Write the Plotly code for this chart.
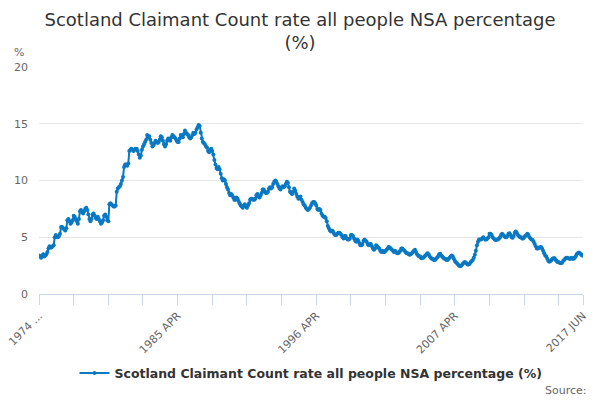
import plotly.graph_objects as go

# monthly values, one row per year (1974 starts in APR, 2017 ends in JUN)
rate_1974 = [3.4, 3.3, 3.2, 3.4, 3.5, 3.3, 3.4, 3.5, 3.7]
rate_1975_1984 = [
    [4.0, 4.2, 4.1, 4.1, 4.2, 4.3, 5.0, 5.2, 5.0, 5.0, 5.1, 5.3],
    [5.9, 5.9, 5.8, 5.7, 5.6, 5.8, 6.5, 6.6, 6.4, 6.2, 6.3, 6.5],
    [6.9, 6.8, 6.6, 6.4, 6.2, 6.6, 7.3, 7.4, 7.2, 7.1, 7.3, 7.5],
    [7.6, 7.4, 7.0, 6.6, 6.4, 6.6, 7.0, 7.1, 6.9, 6.7, 6.6, 6.8],
    [6.6, 6.4, 6.2, 6.3, 6.5, 6.9, 7.0, 6.8, 6.5, 6.4, 7.9, 8.0],
    [7.9, 7.8, 7.7, 7.7, 7.8, 9.0, 9.3, 9.4, 9.5, 9.7, 10.0, 10.3],
    [11.2, 11.4, 11.4, 11.3, 11.5, 12.6, 12.7, 12.8, 12.7, 12.6, 12.7, 12.8],
    [12.8, 12.6, 12.3, 12.0, 12.2, 12.7, 13.0, 13.2, 13.4, 13.6, 14.0, 13.8],
    [13.9, 13.6, 13.3, 13.0, 13.1, 13.3, 13.5, 13.4, 13.3, 13.4, 13.6, 13.9],
    [13.8, 13.5, 13.2, 13.0, 13.2, 13.5, 13.7, 13.6, 13.5, 13.8, 14.0, 13.9],
]
rate_1985_1994 = [
    [13.8, 13.7, 13.5, 13.4, 13.4, 13.7, 14.0, 13.9, 13.8, 14.1, 14.4, 14.2],
    [14.1, 14.0, 13.8, 13.7, 13.8, 14.0, 14.2, 14.1, 14.2, 14.5, 14.7, 14.9],
    [14.8, 14.2, 13.7, 13.4, 13.3, 13.2, 13.0, 12.9, 12.6, 12.5, 12.7, 12.8],
    [12.6, 12.3, 11.8, 11.4, 11.1, 11.0, 11.2, 11.0, 10.6, 10.2, 10.0, 10.1],
    [10.0, 9.7, 9.4, 9.2, 8.9, 8.7, 8.8, 8.7, 8.5, 8.3, 8.3, 8.5],
    [8.4, 8.2, 8.0, 7.8, 7.7, 7.6, 7.8, 7.9, 7.7, 7.6, 7.8, 8.0],
    [8.3, 8.4, 8.4, 8.3, 8.3, 8.4, 8.7, 8.8, 8.6, 8.5, 8.7, 8.9],
    [9.2, 9.2, 9.0, 8.9, 8.9, 9.0, 9.3, 9.4, 9.3, 9.4, 9.7, 9.9],
    [10.0, 9.9, 9.7, 9.5, 9.3, 9.2, 9.4, 9.5, 9.4, 9.5, 9.7, 9.9],
    [9.8, 9.4, 9.0, 8.9, 8.8, 9.0, 9.3, 9.1, 8.8, 8.6, 8.4, 8.5],
]
rate_1995_2004 = [
    [8.6, 8.3, 8.1, 7.9, 7.8, 7.6, 7.5, 7.4, 7.5, 7.6, 7.8, 8.0],
    [8.1, 8.1, 8.0, 7.8, 7.5, 7.4, 7.5, 7.4, 7.1, 6.9, 6.8, 6.8],
    [6.7, 6.4, 6.0, 5.8, 5.6, 5.5, 5.6, 5.5, 5.3, 5.2, 5.2, 5.3],
    [5.4, 5.4, 5.3, 5.2, 5.0, 4.9, 5.1, 5.1, 4.9, 4.8, 4.8, 4.9],
    [5.2, 5.2, 5.1, 4.9, 4.7, 4.6, 4.8, 4.7, 4.5, 4.3, 4.3, 4.4],
    [4.7, 4.8, 4.7, 4.6, 4.4, 4.3, 4.4, 4.4, 4.2, 4.0, 3.9, 4.0],
    [4.3, 4.2, 4.1, 4.0, 3.8, 3.7, 3.8, 3.7, 3.7, 3.8, 3.9, 4.0],
    [4.15, 4.1, 4.0, 3.9, 3.8, 3.7, 3.8, 3.7, 3.6, 3.6, 3.7, 3.8],
    [4.0, 4.0, 3.9, 3.8, 3.7, 3.6, 3.6, 3.5, 3.45, 3.5, 3.6, 3.7],
    [3.8, 3.9, 3.7, 3.5, 3.4, 3.3, 3.3, 3.15, 3.2, 3.2, 3.3, 3.4],
]
rate_2005_2016 = [
    [3.5, 3.6, 3.5, 3.3, 3.2, 3.1, 3.1, 3.0, 3.0, 3.1, 3.2, 3.3],
    [3.5, 3.55, 3.4, 3.3, 3.2, 3.1, 3.1, 3.0, 3.0, 3.1, 3.2, 3.3],
    [3.4, 3.3, 3.1, 2.9, 2.8, 2.7, 2.6, 2.5, 2.45, 2.5, 2.6, 2.7],
    [2.8, 2.8, 2.7, 2.6, 2.6, 2.65, 2.8, 2.9, 3.0, 3.2, 3.45, 3.8],
    [4.3, 4.6, 4.8, 4.8, 4.8, 4.9, 5.0, 4.9, 4.8, 4.8, 4.9, 5.0],
    [5.3, 5.3, 5.2, 5.0, 4.9, 4.8, 4.75, 4.8, 4.8, 4.9, 5.0, 5.2],
    [5.3, 5.2, 5.1, 5.0, 5.0, 5.1, 5.3, 5.35, 5.2, 5.0, 4.95, 5.1],
    [5.4, 5.5, 5.4, 5.2, 5.1, 5.0, 5.0, 4.9, 4.9, 5.0, 5.1, 5.2],
    [5.3, 5.2, 5.0, 4.9, 4.8, 4.75, 4.6, 4.4, 4.2, 4.0, 4.0, 4.1],
    [4.1, 4.15, 4.0, 3.8, 3.6, 3.4, 3.3, 3.1, 2.9, 2.85, 2.9, 3.0],
    [3.1, 3.15, 3.15, 3.0, 2.9, 2.8, 2.8, 2.75, 2.7, 2.75, 2.9, 3.0],
    [3.1, 3.2, 3.2, 3.15, 3.1, 3.1, 3.2, 3.1, 3.1, 3.2, 3.3, 3.5],
]
rate_2017 = [3.6, 3.65, 3.6, 3.5, 3.4, 3.45]

month_names = ["JAN", "FEB", "MAR", "APR", "MAY", "JUN",
               "JUL", "AUG", "SEP", "OCT", "NOV", "DEC"]

values = list(rate_1974)
for block in (rate_1975_1984, rate_1985_1994, rate_1995_2004, rate_2005_2016):
    for row in block:
        values += row
values += rate_2017

# category labels, 1974 APR .. 2017 JUN
periods = [f"1974 {m}" for m in month_names[3:]]
for yr in range(1975, 2017):
    periods += [f"{yr} {m}" for m in month_names]
periods += [f"2017 {m}" for m in month_names[:6]]

# ticks every 33 months, labels on every 4th tick plus the last month
tick_idx = list(range(0, len(periods), 33)) + [len(periods) - 1]
tick_text = []
for k in tick_idx:
    if k == 0:
        tick_text.append("1974 ...")
    elif k % 132 == 0 or k == len(periods) - 1:
        tick_text.append(periods[k])
    else:
        tick_text.append("")

blue = "#0a78c2"
grey = "#666666"

fig = go.Figure()
fig.add_trace(go.Scatter(
    x=periods, y=values,
    mode="lines+markers",
    line=dict(color=blue, width=2),
    marker=dict(color=blue, size=4),
    name="Scotland Claimant Count rate all people NSA percentage (%)",
))

fig.update_layout(
    width=600, height=400,
    margin=dict(l=39, r=17, t=67, b=106, autoexpand=False),
    paper_bgcolor="white", plot_bgcolor="white",
    font=dict(family="DejaVu Sans", color=grey, size=11),
    title=dict(
        text="Scotland Claimant Count rate all people NSA percentage<br>(%)",
        x=0.5, xanchor="center", xref="container",
        y=0.935, yanchor="middle", yref="container",
        font=dict(size=18, color="#333333"),
    ),
    showlegend=True,
    legend=dict(
        orientation="h", x=0.5, xanchor="center", y=-0.35, yanchor="middle",
        font=dict(size=12.5, color="#333333", weight="bold"),
        itemwidth=30,
    ),
    annotations=[
        dict(text="%", xref="paper", yref="paper", x=-0.05, y=1.066,
             xanchor="left", yanchor="middle", showarrow=False,
             font=dict(size=11, color=grey)),
        dict(text="Source:", xref="paper", yref="paper", x=1.011, y=-0.425,
             xanchor="right", yanchor="middle", showarrow=False,
             font=dict(size=11, color=grey)),
    ],
)

fig.update_xaxes(
    type="category", range=[0, len(periods) - 1], automargin=False,
    tickmode="array", tickvals=[periods[k] for k in tick_idx], ticktext=tick_text,
    tickangle=-45, ticks="outside", ticklen=10, tickcolor="#ccd6eb",
    showline=True, linecolor="#ccd6eb", linewidth=1,
    showgrid=False, zeroline=False,
)
fig.update_yaxes(
    range=[0, 20], dtick=5, showgrid=True, gridcolor="#e6e6e6",
    zeroline=False, showline=False, ticklabelstandoff=10, automargin=False,
)

fig.write_html("out.html", config={"displayModeBar": False},
               post_script="document.body.style.margin='0';")
